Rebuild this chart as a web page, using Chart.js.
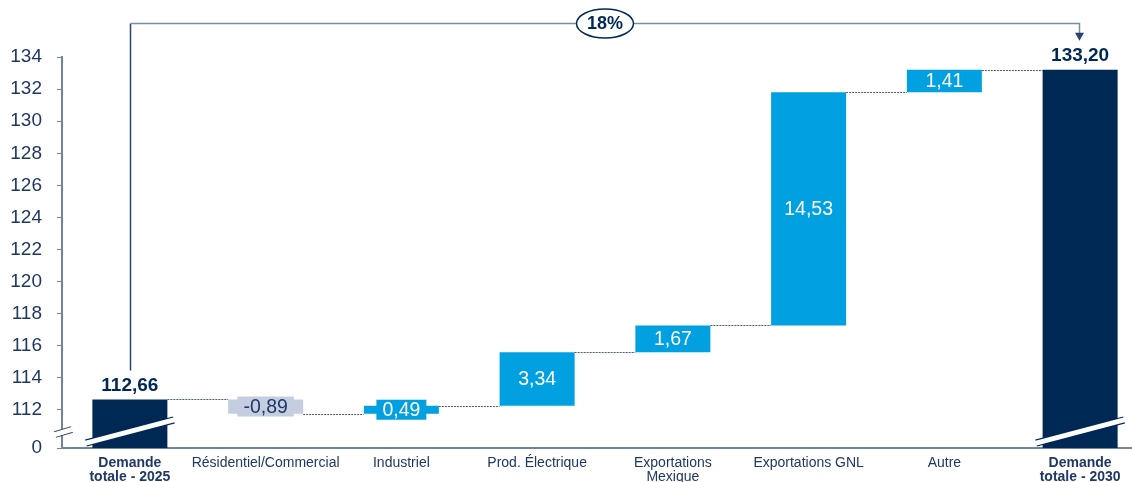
<!DOCTYPE html>
<html lang="fr">
<head>
<meta charset="utf-8">
<title>Demande totale 2025 - 2030</title>
<script src="https://cdn.jsdelivr.net/npm/chart.js@4.4.1/dist/chart.umd.min.js"></script>
<style>
  html, body { margin: 0; padding: 0; background: #fff; overflow: hidden; }
  #wrap { position: relative; width: 1148px; height: 482px; }
</style>
</head>
<body>
<div id="wrap"><canvas id="waterfall"></canvas></div>
<script>
// Données
const categories = [
  ['Demande', 'totale - 2025'],
  'Résidentiel/Commercial',
  'Industriel',
  'Prod. Électrique',
  ['Exportations', 'Mexique'],
  'Exportations GNL',
  'Autre',
  ['Demande', 'totale - 2030'],
];
const startTotal = 112.66;
const changes = [-0.89, 0.49, 3.34, 1.67, 14.53, 1.41];
const endTotal = 133.2;
const growthLabel = '18%';
const yTicks = [112, 114, 116, 118, 120, 122, 124, 126, 128, 130, 132, 134];
const zeroLabel = '0';

// bas de l'axe coupé : représente le zéro
const yFloor = 109.63;

const NAVY = '#002855';
const BLUE = '#00a0e1';
const GREY = '#c5cee0';
const TEXT = '#1f3864';
const AXIS = '#6f84a0';
const FONT = '"Liberation Sans", Arial, sans-serif';

// barres flottantes de la cascade
const bars = [[yFloor, startTotal]];
const ends = [startTotal];
let running = startTotal;
changes.forEach((c) => {
  bars.push([running, running + c]);
  running += c;
  ends.push(running);
});
bars.push([yFloor, endTotal]);
ends.push(endTotal);

const isTotal = (i) => i === 0 || i === categories.length - 1;
const colors = bars.map((b, i) =>
  isTotal(i) ? NAVY : changes[i - 1] < 0 ? GREY : BLUE
);
const labelValues = [startTotal, ...changes, endTotal];
const fmt = (v) => v.toFixed(2).replace('.', ',');

// break marks, value labels, connectors and the growth bracket
const overlay = {
  id: 'overlay',
  afterDatasetsDraw(chart) {
    const { ctx, chartArea, scales } = chart;
    const y = scales.y;
    const els = chart.getDatasetMeta(0).data;
    ctx.save();

    // pointillés entre barres
    ctx.strokeStyle = '#4a5a78';
    ctx.lineWidth = 1;
    ctx.setLineDash([2, 1]);
    for (let i = 0; i < els.length - 1; i++) {
      const a = els[i], b = els[i + 1];
      const py = Math.round(y.getPixelForValue(ends[i])) + 0.5;
      ctx.beginPath();
      ctx.moveTo(a.x + a.width / 2, py);
      ctx.lineTo(b.x - b.width / 2, py);
      ctx.stroke();
    }
    ctx.setLineDash([]);

    // coupure sur les barres de total
    const cut = (cx, cy, hx, hy, outer, inner, col) => {
      ctx.lineCap = 'butt';
      ctx.strokeStyle = col;
      ctx.lineWidth = outer;
      ctx.beginPath();
      ctx.moveTo(cx - hx, cy + hy);
      ctx.lineTo(cx + hx, cy - hy);
      ctx.stroke();
      ctx.strokeStyle = '#fff';
      ctx.lineWidth = inner;
      ctx.beginPath();
      ctx.moveTo(cx - hx - 1, cy + hy + 0.3);
      ctx.lineTo(cx + hx + 1, cy - hy - 0.3);
      ctx.stroke();
    };
    [0, els.length - 1].forEach((i) => {
      cut(els[i].x, chartArea.bottom - 16.5, 44, 11.5, 7, 5, NAVY);
    });
    // coupure de l'axe vertical
    cut(chartArea.left + 1.5, chartArea.bottom - 16, 8.5, 2.5, 7, 5, '#2d4470');

    // étiquettes de valeur
    ctx.textAlign = 'center';
    ctx.textBaseline = 'middle';
    els.forEach((el, i) => {
      const txt = fmt(labelValues[i]);
      if (isTotal(i)) {
        ctx.font = 'bold 19px ' + FONT;
        ctx.fillStyle = NAVY;
        ctx.fillText(txt, el.x, y.getPixelForValue(bars[i][1]) - 14);
        return;
      }
      ctx.font = '19.5px ' + FONT;
      const cy = (y.getPixelForValue(bars[i][0]) + y.getPixelForValue(bars[i][1])) / 2;
      const w = ctx.measureText(txt).width + 12;
      ctx.fillStyle = colors[i];
      ctx.fillRect(el.x - w / 2, cy - 10, w, 20);
      ctx.fillStyle = colors[i] === GREY ? TEXT : '#fff';
      ctx.fillText(txt, el.x, cy + 1);
    });

    // accolade de croissance 2025 -> 2030
    const x0 = Math.round(els[0].x) + 0.5;
    const x1 = Math.round(els[els.length - 1].x) - 0.5;
    const topY = 23.5;
    const leftEnd = y.getPixelForValue(startTotal) - 29;
    const tip = y.getPixelForValue(endTotal) - 29;
    ctx.lineWidth = 1.5;
    ctx.strokeStyle = '#2d4470';
    ctx.beginPath();
    ctx.moveTo(x0, leftEnd);
    ctx.lineTo(x0, topY);
    ctx.stroke();
    ctx.strokeStyle = '#7b8ca6';
    ctx.beginPath();
    ctx.moveTo(x0, topY);
    ctx.lineTo(x1, topY);
    ctx.lineTo(x1, tip - 7);
    ctx.stroke();
    ctx.fillStyle = '#2d4470';
    ctx.beginPath();
    ctx.moveTo(x1 - 4.5, tip - 8);
    ctx.lineTo(x1 + 4.5, tip - 8);
    ctx.lineTo(x1, tip);
    ctx.closePath();
    ctx.fill();

    const mx = (x0 + x1) / 2;
    ctx.beginPath();
    ctx.ellipse(mx, topY, 28.5, 14.5, 0, 0, Math.PI * 2);
    ctx.fillStyle = '#fff';
    ctx.fill();
    ctx.lineWidth = 1.5;
    ctx.strokeStyle = NAVY;
    ctx.stroke();
    ctx.font = 'bold 18px ' + FONT;
    ctx.fillStyle = NAVY;
    ctx.fillText(growthLabel, mx, topY + 1);

    ctx.restore();
  },
};

new Chart(document.getElementById('waterfall'), {
  type: 'bar',
  data: {
    labels: categories,
    datasets: [{
      data: bars,
      backgroundColor: colors,
      borderWidth: 0,
      borderSkipped: false,
      barPercentage: 0.5525,
      categoryPercentage: 1,
    }],
  },
  options: {
    responsive: true,
    maintainAspectRatio: false,
    animation: false,
    layout: { padding: { top: 57, left: 0, right: 0, bottom: 0 } },
    plugins: { legend: { display: false }, tooltip: { enabled: false } },
    scales: {
      x: {
        grid: { display: false },
        border: { color: AXIS, width: 2 },
        ticks: {
          color: TEXT,
          autoSkip: false,
          maxRotation: 0,
          padding: 0,
          font: (c) => ({
            family: FONT,
            size: 14,
            lineHeight: 1.0,
            weight: isTotal(c.index) ? 'bold' : 'normal',
          }),
        },
        afterFit: (s) => { s.height = 34; },
      },
      y: {
        min: yFloor,
        max: 134,
        afterBuildTicks: (s) => {
          s.ticks = [yFloor, ...yTicks].map((v) => ({ value: v }));
        },
        ticks: {
          color: TEXT,
          padding: 15,
          font: { family: FONT, size: 19 },
          callback: (v) => (v === yFloor ? zeroLabel : String(v)),
        },
        grid: { drawOnChartArea: false, tickLength: 5, color: AXIS, lineWidth: 1 },
        border: { color: AXIS, width: 2 },
        afterFit: (s) => { s.width = 62; },
      },
    },
  },
  plugins: [overlay],
});
</script>
</body>
</html>
